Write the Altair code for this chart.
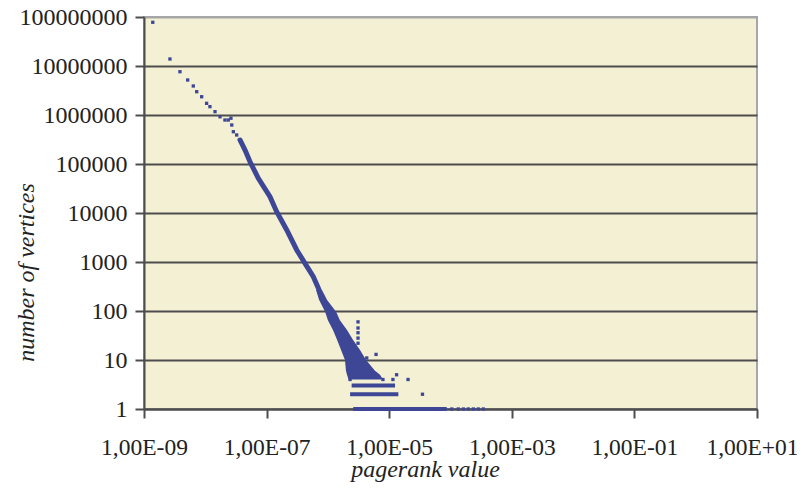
import altair as alt
import pandas as pd

# ---- data ----
# isolated points (pagerank value, number of vertices)
pt_rank = [1.39e-9, 2.65e-9, 3.86e-9, 5.16e-9, 6.37e-9, 7.24e-9, 8.73e-9, 1.05e-8,
           1.19e-8, 1.44e-8, 1.74e-8, 2.09e-8, 2.37e-8, 2.62e-8, 2.70e-8, 2.87e-8,
           3.25e-8, 3.68e-8,
           3.10e-6, 3.10e-6, 3.10e-6, 3.10e-6, 3.10e-6,
           6.1e-6, 4.3e-6, 1.32e-5, 2.03e-5, 1.15e-5, 7.9e-6, 3.49e-5, 2.3e-6,
           1.05e-4, 1.34e-4, 1.62e-4, 1.95e-4, 2.36e-4, 2.84e-4, 3.43e-4]
pt_count = [7.8e7, 1.39e7, 7.65e6, 5.18e6, 3.91e6, 2.99e6, 2.36e6, 1.73e6,
            1.48e6, 1.17e6, 9.2e5, 7.9e5, 7.9e5, 8.6e5, 6.25e5, 4.56e5,
            3.91e5, 3.09e5,
            60, 45, 36, 28, 22,
            13, 11, 5, 4, 4, 4, 2, 4,
            1, 1, 1, 1, 1, 1, 1]

# dense power-law trend
line_rank = [3.68e-8, 4.45e-8, 5.36e-8, 6.47e-8, 7.33e-8, 1.135e-7, 1.46e-7,
             2.13e-7, 3.10e-7, 4.23e-7, 5.78e-7, 7.2e-7]
line_count = [3.09e5, 1.93e5, 1.11e5, 6.97e4, 5.1e4, 2.15e4, 1.06e4,
              4500, 1760, 940, 500, 268]

# widening cloud at the tail (left / right edge per vertex count)
band_count = [268, 168, 97, 65, 41, 26, 16, 10, 6, 5, 4]
band_left = [6.4e-7, 7.2e-7, 9.0e-7, 1.0e-6, 1.21e-6, 1.41e-6, 1.64e-6, 1.9e-6,
             1.97e-6, 2.05e-6, 2.17e-6]
band_right = [8.0e-7, 9.7e-7, 1.36e-6, 1.57e-6, 2.05e-6, 2.56e-6, 3.34e-6,
              4.19e-6, 5.86e-6, 7.08e-6, 7.93e-6]

# horizontal runs at small counts
run_count = [3, 2, 1]
run_start = [2.44e-6, 2.30e-6, 2.59e-6]
run_end = [1.245e-5, 1.41e-5, 8.67e-5]

# axes
x_ticks = [1e-9, 1e-7, 1e-5, 1e-3, 1e-1, 1e1]
x_labels = ["1,00E-09", "1,00E-07", "1,00E-05", "1,00E-03", "1,00E-01", "1,00E+01"]
y_ticks = [1, 10, 100, 1000, 10000, 100000, 1000000, 10000000, 100000000]
y_labels = ["1", "10", "100", "1000", "10000", "100000", "1000000", "10000000", "100000000"]

# ---- chart ----
BLUE = "#3d4796"
AX = "#4d4d4d"
SERIF = "Liberation Serif"

xs = alt.Scale(type="log", domain=[1e-9, 10], nice=False)
ys = alt.Scale(type="log", domain=[1, 1e8], nice=False)

x_lab_expr = "[" + ",".join(f"'{s}'" for s in x_labels) + "][round((log(datum.value)/LN10 + 9)/2)]"
y_lab_expr = "[" + ",".join(f"'{s}'" for s in y_labels) + "][round(log(datum.value)/LN10)]"

x_axis = alt.Axis(values=x_ticks, labelExpr=x_lab_expr, title="pagerank value", grid=False,
                  domainColor=AX, domainWidth=2, tickColor=AX, tickWidth=2, tickSize=9,
                  labelFont=SERIF, labelFontSize=23.5, labelColor="#222222",
                  labelPadding=36, labelBaseline="alphabetic", labelFlush=False,
                  labelOverlap=False,
                  labelOffset={"condition": {"test": "datum.value > 1", "value": -5}, "value": 0},
                  titleFont=SERIF, titleFontSize=24, titleFontStyle="italic",
                  titleFontWeight="normal", titleColor="#222222", titleX=281, titleY=67,
                  titleAlign="center", titleBaseline="alphabetic")
y_axis = alt.Axis(values=y_ticks, labelExpr=y_lab_expr, title="number of vertices", grid=True,
                  gridColor={"condition": {"test": "datum.value >= 1e8", "value": "#a6a6a6"},
                             "value": AX},
                  gridWidth=2, domainColor=AX, domainWidth=2, tickColor=AX, tickWidth=2,
                  tickSize=9, labelFont=SERIF, labelFontSize=24, labelColor="#222222",
                  labelPadding=8, labelBaseline="middle", labelAlign="right",
                  labelFlush=False, labelOverlap=False,
                  titleFont=SERIF, titleFontSize=24, titleFontStyle="italic",
                  titleFontWeight="normal", titleColor="#222222", titleX=-111, titleY=255,
                  titleAngle=270, titleAlign="center", titleBaseline="alphabetic")

pts = pd.DataFrame({"rank": pt_rank, "count": pt_count})
line = pd.DataFrame({"rank": line_rank, "count": line_count})
band = pd.DataFrame({"count": band_count, "left": band_left, "right": band_right})
runs = pd.DataFrame({"count": run_count, "start": run_start, "end": run_end})

p_layer = alt.Chart(pts).mark_point(filled=True, shape="square", size=11, color=BLUE, opacity=1).encode(
    x=alt.X("rank:Q", scale=xs, axis=x_axis),
    y=alt.Y("count:Q", scale=ys, axis=y_axis),
)
l_layer = alt.Chart(line).mark_line(color=BLUE, strokeWidth=5, strokeCap="round").encode(
    x=alt.X("rank:Q", scale=xs),
    y=alt.Y("count:Q", scale=ys),
)
b_layer = alt.Chart(band).mark_area(orient="horizontal", color=BLUE, opacity=1).encode(
    y=alt.Y("count:Q", scale=ys),
    x=alt.X("left:Q", scale=xs),
    x2="right:Q",
)
r_layer = alt.Chart(runs).mark_rule(color=BLUE, strokeWidth=4).encode(
    y=alt.Y("count:Q", scale=ys),
    x=alt.X("start:Q", scale=xs),
    x2="end:Q",
)

chart = alt.layer(p_layer, l_layer, b_layer, r_layer).properties(
    width=613, height=392,
    padding={"left": 136, "top": 9, "right": 40, "bottom": 75},
    autosize="none",
    background="white",
).configure_view(fill="#f4f0d4", stroke="#a6a6a6", strokeWidth=2)

chart.save("out.html", embed_options={"renderer": "svg", "actions": False})
